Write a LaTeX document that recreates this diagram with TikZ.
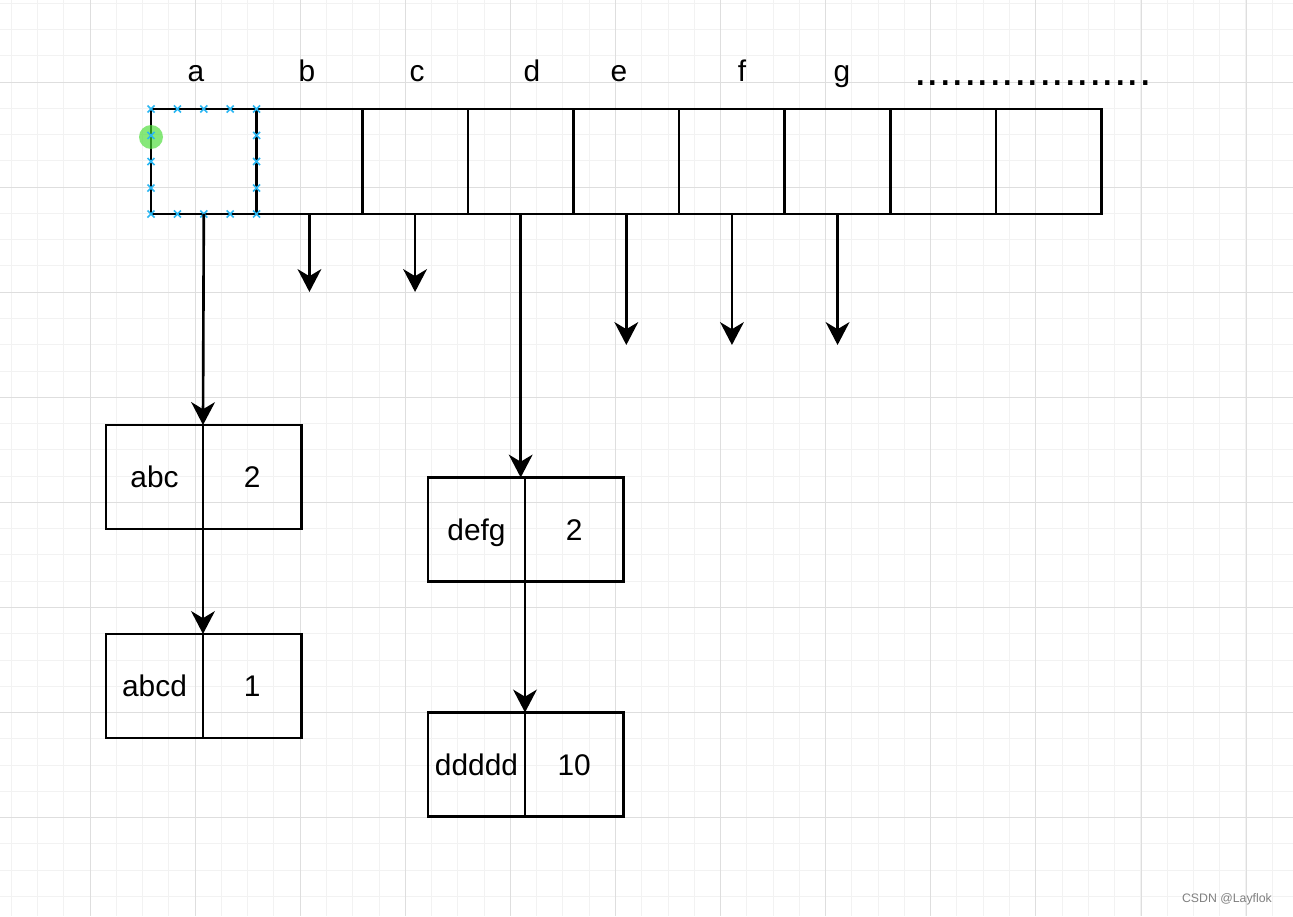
\documentclass[tikz,border=0pt]{standalone}
\usepackage{fontspec}
\setmainfont{Liberation Sans}
\usepackage{tikz}
\definecolor{gridminor}{RGB}{242,242,242}
\definecolor{gridmajor}{RGB}{222,222,222}
\definecolor{selblue}{RGB}{41,182,242}
\definecolor{selgreen}{RGB}{70,220,50}
\usetikzlibrary{positioning, arrows.meta}
\tikzset{
	cell/.style={draw, rectangle, line width=1.5pt, minimum width=2.113cm, minimum height=2.1cm, inner sep=0pt, outer sep=0pt},
	keybox/.style={draw, rectangle, line width=1.5pt, minimum width=1.94cm, minimum height=2.08cm, inner sep=0pt, outer sep=0pt, text height=0.55cm, text depth=0.12cm, font=\fontsize{17}{20}\selectfont},
	valbox/.style={keybox, minimum width=1.97cm},
	lbl/.style={font=\fontsize{17}{20}\selectfont, inner sep=0pt},
	arr/.style={-{Stealth[length=13pt, width=13.5pt, inset=4pt]}, line width=1.5pt},
	selmark/.style={selblue, line width=0.9pt}
}

\begin{document}
\begin{tikzpicture}[x=0.02cm, y=-0.02cm]
	\useasboundingbox (0,0) rectangle (1293,916);
	\fill[white] (0,0) rectangle (1293,916);
	
	% grid
	\foreach \k in {0,...,49} \draw[gridminor, line width=0.5pt] ({11.2+26.27*\k},0) -- ({11.2+26.27*\k},916);
	\foreach \k in {0,...,35} \draw[gridminor, line width=0.5pt] (0,{3.2+26.27*\k}) -- (1293,{3.2+26.27*\k});
	\foreach \k in {0,...,11} \draw[gridmajor, line width=0.5pt] ({90+105.1*\k},0) -- ({90+105.1*\k},916);
	\foreach \k in {0,...,8} \draw[gridmajor, line width=0.5pt] (0,{82+105.1*\k}) -- (1293,{82+105.1*\k});
	
	% array
	\node[cell] (cell1) at (203.8,161.5) {};
	\foreach \i [remember=\i as \prev (initially 1)] in {2,...,9}
		\node[cell, right=0pt of cell\prev] (cell\i) {};
	
	\foreach \t/\x in {a/196, b/307, c/417, d/532, e/619, f/742, g/842}
		\node[lbl, anchor=base] (lbl\t) at (\x,81) {\t};
	
	\node[font=\fontsize{25.6}{30}\selectfont, inner sep=0pt, anchor=base] (more) at (1033,85) {...................};
	
	% selection on first cell
	\fill[selgreen, opacity=0.65] (151,137) circle (0.24cm);
	\foreach \x in {151, 177.4, 203.8, 230.2, 256.6}
		\foreach \y in {109, 214}
			\draw[selmark] ({\x-3.5},{\y-3.5}) -- ({\x+3.5},{\y+3.5}) ({\x-3.5},{\y+3.5}) -- ({\x+3.5},{\y-3.5});
	\foreach \y in {135.4, 161.5, 188}
		\foreach \x in {151, 256.6}
			\draw[selmark] ({\x-3.5},{\y-3.5}) -- ({\x+3.5},{\y+3.5}) ({\x-3.5},{\y+3.5}) -- ({\x+3.5},{\y-3.5});
	
	% entries
	\node[keybox] (abckey) at (154.5,477) {abc};
	\node[valbox, right=0pt of abckey] (abcval) {2};
	
	\node[keybox, below=2.1cm of abckey] (abcdkey) {abcd};
	\node[valbox, right=0pt of abcdkey] (abcdval) {1};
	
	\node[keybox] (defgkey) at (476.5,529.5) {defg};
	\node[valbox, right=0pt of defgkey] (defgval) {2};
	
	\node[keybox, below=2.62cm of defgkey] (dddddkey) {ddddd};
	\node[valbox, right=0pt of dddddkey] (dddddval) {10};
	
	% pointers
	\draw[arr] (cell1.south) -- (abckey.north east);
	\draw[arr] (abckey.south east) -- (abcdkey.north east);
	\draw[arr] (cell4.south) -- (cell4.south |- defgkey.north);
	\draw[arr] (defgkey.south east) -- (dddddkey.north east);
	
	\foreach \i/\len in {2/78, 3/78, 5/131, 6/131, 7/131} {
		\path (cell\i.south) ++(0,\len) coordinate (tip\i);
		\draw[arr] (cell\i.south) -- (tip\i);
	}
	
	\node[font=\fontsize{7}{8}\selectfont, text=gray, anchor=east] (mark) at (1278,899) {CSDN @Layflok};
\end{tikzpicture}
\end{document}
